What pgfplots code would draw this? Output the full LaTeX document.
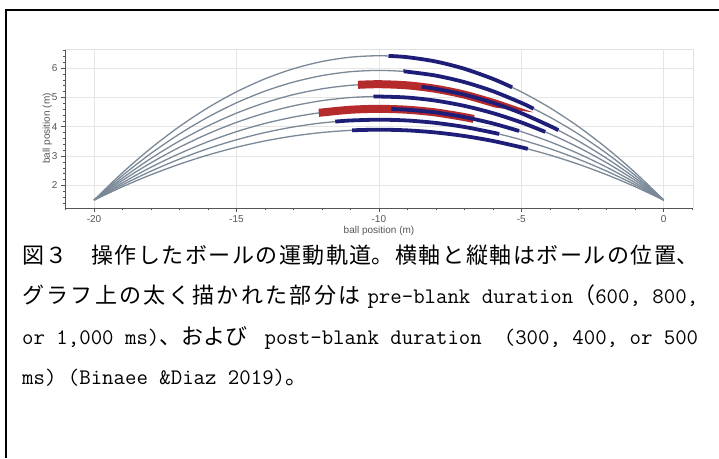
\documentclass[border=0pt]{standalone}
\usepackage{pgfplots}
\pgfplotsset{compat=1.18}
\usepackage{pgfplotstable}
\usepackage{fontspec}
\setmainfont{Liberation Sans}
\newfontfamily\jp{Noto Sans CJK JP}
\newcommand\lat[1]{{\XeTeXlinebreaklocale ""\ttfamily\fontsize{22.2}{40}\selectfont #1}}
\definecolor{traj}{HTML}{7A8897}
\definecolor{navy}{HTML}{1E1E78}
\definecolor{redseg}{HTML}{B52A2A}
\definecolor{lbl}{HTML}{555555}

\pgfplotstableread{
x c1 c2 c3 c4 c5 c6 c7
-20 1.500 1.500 1.500 1.500 1.500 1.500 1.500
-19 2.435 2.340 2.251 2.171 2.091 2.021 1.956
-18 3.271 3.091 2.922 2.771 2.620 2.486 2.364
-17 4.009 3.754 3.515 3.300 3.086 2.897 2.724
-16 4.649 4.329 4.028 3.759 3.490 3.254 3.036
-15 5.190 4.815 4.463 4.148 3.833 3.555 3.300
-14 5.633 5.213 4.818 4.465 4.112 3.802 3.516
-13 5.977 5.522 5.095 4.712 4.330 3.993 3.684
-12 6.223 5.743 5.292 4.889 4.486 4.130 3.804
-11 6.371 5.876 5.411 4.995 4.579 4.213 3.876
-10 6.420 5.920 5.450 5.030 4.610 4.240 3.900
-9 6.371 5.876 5.411 4.995 4.579 4.213 3.876
-8 6.223 5.743 5.292 4.889 4.486 4.130 3.804
-7 5.977 5.522 5.095 4.712 4.330 3.993 3.684
-6 5.633 5.213 4.818 4.465 4.112 3.802 3.516
-5 5.190 4.815 4.463 4.148 3.833 3.555 3.300
-4 4.649 4.329 4.028 3.759 3.490 3.254 3.036
-3 4.009 3.754 3.515 3.300 3.086 2.897 2.724
-2 3.271 3.091 2.922 2.771 2.620 2.486 2.364
-1 2.435 2.340 2.251 2.171 2.091 2.021 1.956
0 1.500 1.500 1.500 1.500 1.500 1.500 1.500
}\traj

\begin{document}
\begin{tikzpicture}
\useasboundingbox (0,0) rectangle (719pt,458pt);
\fill[white] (0,0) rectangle (719pt,458pt);
\begin{axis}[
  at={(65pt,250pt)}, anchor=south west,
  width=628pt, height=159pt, scale only axis,
  xmin=-21.02, xmax=1.03, ymin=1.23, ymax=6.65,
  xtick={-20,-15,-10,-5,0}, ytick={2,3,4,5,6},
  minor xtick={-21,...,1}, minor ytick={1.4,1.6,...,6.6},
  tick align=outside, major tick length=4pt, minor tick length=2.5pt,
  axis x line*=bottom, axis y line*=left,
  axis line style={lbl, line width=0.6pt},
  tick style={lbl, line width=0.5pt},
  grid=major, major grid style={black!10, line width=0.6pt},
  minor grid style={draw=none},
  ticklabel style={font=\fontsize{10}{12}\selectfont, text=lbl},
  /pgf/number format/assume math mode=true,
  xlabel={ball position (m)}, ylabel={ball position (m)},
  label style={font=\fontsize{10}{12}\selectfont, text=lbl},
  xlabel style={yshift=3pt},
  ylabel style={yshift=-7pt},
  clip=false,
]
\draw[black!12, line width=0.6pt] (rel axis cs:0,1) -- (rel axis cs:1,1) -- (rel axis cs:1,0);
\foreach \c in {c1,c2,c3,c4,c5,c6,c7}{
  \addplot[traj, line width=1.3pt, smooth] table[x=x, y=\c] {\traj};
}
% red (pre-blank) segments
\addplot[redseg, line width=8pt, smooth] coordinates {(-10.73,5.429) (-10,5.450) (-9,5.411) (-8,5.292) (-7,5.095) (-6,4.818) (-5.91,4.789)};
\addplot[redseg, line width=8pt, smooth] coordinates {(-12.08,4.475) (-12,4.486) (-11,4.579) (-10,4.610) (-9,4.579) (-8,4.486) (-7,4.330) (-6.67,4.265)};
% blue (post-blank) segments
\addplot[navy, line width=3.8pt, smooth] coordinates {(-9.66,6.414) (-9,6.371) (-8,6.223) (-7,5.977) (-6,5.633) (-5.32,5.343)};
\addplot[navy, line width=3.8pt, smooth] coordinates {(-9.13,5.887) (-9,5.876) (-8,5.743) (-7,5.522) (-6,5.213) (-5,4.815) (-4.57,4.617)};
\addplot[navy, line width=3.8pt, smooth] coordinates {(-8.50,5.361) (-8,5.292) (-7,5.095) (-6,4.818) (-5,4.463) (-4,4.028) (-3.70,3.882)};
\addplot[navy, line width=3.8pt, smooth] coordinates {(-10.19,5.029) (-10,5.030) (-9,4.995) (-8,4.889) (-7,4.712) (-6,4.465) (-5,4.148) (-4.16,3.826)};
\addplot[navy, line width=3.8pt, smooth] coordinates {(-9.56,4.604) (-9,4.579) (-8,4.486) (-7,4.330) (-6,4.112) (-5.08,3.857)};
\addplot[navy, line width=3.8pt, smooth] coordinates {(-11.53,4.176) (-11,4.213) (-10,4.240) (-9,4.213) (-8,4.130) (-7,3.993) (-6,3.802) (-5.78,3.752)};
\addplot[navy, line width=3.8pt, smooth] coordinates {(-10.94,3.879) (-10,3.900) (-9,3.876) (-8,3.804) (-7,3.684) (-6,3.516) (-5,3.300) (-4.77,3.244)};
\end{axis}
\draw[black, line width=1.8pt] (6pt,0pt) -- (6pt,448pt) -- (719pt,448pt);
\node[anchor=base west, inner sep=0pt, text width=676pt, align=justify,
      font=\jp\fontsize{22}{40}\selectfont] at (22pt,194pt)
{\XeTeXlinebreaklocale "ja"\XeTeXlinebreakskip=0pt plus 3pt minus 0.5pt\relax
図３　操作したボールの運動軌道。横軸と縦軸はボールの位置、\linebreak
グラフ上の太く描かれた部分は \lat{pre-blank duration}（\lat{600, 800,}\linebreak
\lat{or 1,000 ms)}、および \lat{post-blank duration}　\lat{(300, 400, or 500}\linebreak
\lat{ms) (Binaee \&Diaz 2019)}。};
\end{tikzpicture}
\end{document}
